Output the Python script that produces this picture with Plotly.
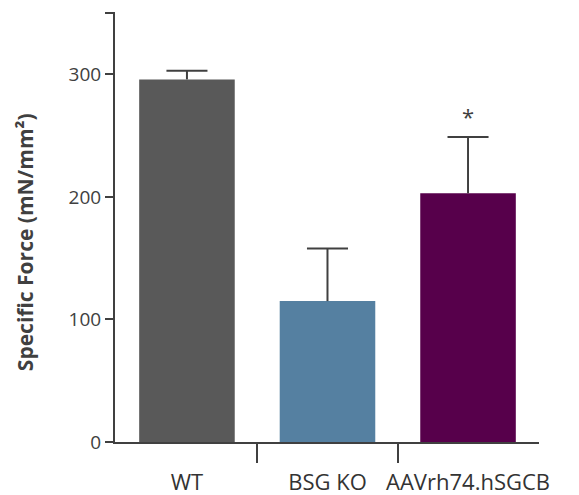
import plotly.graph_objects as go

categories = ["WT", "BSG KO", "AAVrh74.hSGCB"]
means = [296, 115, 203]
sem_upper = [7, 43, 46]
bar_colors = ["#595959", "#5580a1", "#57004b"]
y_ticks = [0, 100, 200, 300, 350]
y_tick_text = ["0", "100", "200", "300", ""]
y_title = "<b>Specific Force (mN/mm²)</b>"
sig_label = "*"
sig_y = 266

axis_color = "#404040"
x_idx = list(range(len(categories)))
cap_half = 0.146

fig = go.Figure()
fig.add_trace(go.Bar(
    x=x_idx, y=means,
    marker=dict(color=bar_colors, line=dict(width=0)),
    width=0.68,
    showlegend=False,
))

# upper-only error bars (stem + top cap), built from the data arrays
ex, ey = [], []
for xi, m, e in zip(x_idx, means, sem_upper):
    ex += [xi, xi, None, xi - cap_half, xi + cap_half, None]
    ey += [m, m + e, None, m + e, m + e, None]
fig.add_trace(go.Scatter(x=ex, y=ey, mode="lines",
                         line=dict(color=axis_color, width=2),
                         showlegend=False, hoverinfo="skip"))

# invisible trace to host boundary ticks axis
fig.add_trace(go.Scatter(x=[0.5, 1.5], y=[0, 0], xaxis="x2", mode="markers",
                         marker=dict(opacity=0), showlegend=False, hoverinfo="skip"))

fig.add_annotation(x=2, y=sig_y, text=sig_label, showarrow=False,
                   font=dict(family="Open Sans", size=22, color=axis_color))

# y-axis title
fig.add_annotation(x=-0.212, y=0.465, xref="paper", yref="paper", text=y_title,
                   textangle=-90, showarrow=False, xanchor="center", yanchor="middle",
                   font=dict(family="Open Sans", size=21, color="#404040"))

xr = [-0.512, 2.505]
fig.update_layout(
    width=579, height=495,
    margin=dict(l=115, r=40, t=12, b=53),
    plot_bgcolor="white", paper_bgcolor="white",
    xaxis=dict(range=xr, tickvals=x_idx, ticktext=categories, ticks="",
               showline=True, linecolor=axis_color, linewidth=2,
               showgrid=False, zeroline=False, automargin=False,
               tickfont=dict(family="Open Sans", size=22, color="#333333"),
               ticklabelstandoff=20),
    xaxis2=dict(range=xr, overlaying="x", side="bottom", tickvals=[0.5, 1.5],
                ticks="outside", ticklen=20, tickwidth=2, tickcolor=axis_color,
                showticklabels=False, showline=False, showgrid=False,
                zeroline=False, automargin=False),
    yaxis=dict(range=[0, 351], tickvals=y_ticks, ticktext=y_tick_text,
               ticks="outside", ticklen=8, tickwidth=2, tickcolor=axis_color,
               showline=True, linecolor=axis_color, linewidth=2,
               showgrid=False, zeroline=False, automargin=False,
               tickfont=dict(family="Open Sans", size=19, color="#404040")),
)

fig.write_html("out.html")
